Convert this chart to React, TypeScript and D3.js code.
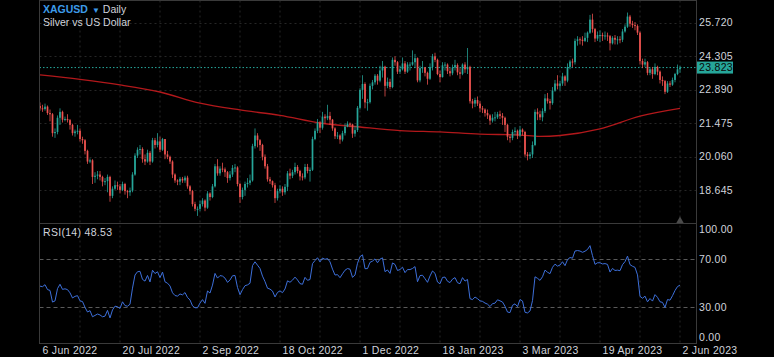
import React from "react";
import * as d3 from "d3";

// ---- data ----
const tickLabels = ["6 Jun 2022", "20 Jul 2022", "2 Sep 2022", "18 Oct 2022", "1 Dec 2022", "18 Jan 2023", "3 Mar 2023", "19 Apr 2023", "2 Jun 2023"];
const tickIndex = [0, 32, 64, 96, 128, 160, 192, 224, 256];
const priceTicks = [25.72, 24.305, 22.89, 21.475, 20.06, 18.645];
const rsiTicks = [100, 70, 30, 0];
const lastPrice = 23.823;
const rsiLast = 48.53;
const firstOpen = 22.2;

const priorCloses = [22.55, 22.9, 22.25, 22.3, 21.45, 21.25, 21.6, 20.9, 21.1, 21.6, 21.7, 21.55, 21.85, 21.7, 21.95, 22.1, 21.9, 22.1, 22.05, 21.9, 21.65, 21.95, 22.25, 22.2];

const close = [
  22.10, 22.07, 22.17, 21.90, 21.85, 21.05, 21.10, 21.70, 21.95, 21.62,
  21.65, 21.60, 21.40, 21.05, 21.12, 21.15, 20.80, 20.75, 20.30, 19.85,
  19.90, 19.20, 19.25, 19.30, 19.20, 19.00, 19.02, 19.20, 18.40, 18.70,
  18.85, 18.80, 18.65, 18.90, 18.60, 18.55, 18.62, 19.30, 20.10, 20.35,
  20.38, 19.95, 19.85, 20.22, 19.85, 20.75, 20.55, 20.70, 20.35, 20.80,
  20.15, 20.05, 19.85, 19.30, 19.05, 19.00, 19.12, 19.05, 19.17, 18.80,
  18.60, 18.05, 17.85, 17.85, 18.05, 18.20, 17.90, 18.50, 18.35, 18.80,
  19.65, 19.35, 19.55, 19.52, 19.40, 19.15, 19.30, 19.58, 19.60, 18.90,
  18.35, 18.65, 18.90, 18.95, 19.05, 20.50, 20.95, 20.75, 20.55, 20.05,
  19.65, 19.10, 19.02, 18.85, 18.30, 18.60, 18.70, 18.55, 18.78, 19.35,
  19.25, 19.40, 19.62, 19.45, 19.22, 19.18, 19.62, 19.45, 19.50, 20.80,
  21.15, 21.50, 21.28, 21.75, 21.68, 21.78, 21.62, 21.25, 20.92, 20.95,
  20.78, 21.05, 21.32, 21.45, 21.42, 21.03, 21.18, 22.12, 22.88, 23.13,
  22.35, 22.36, 23.05, 23.20, 23.48, 23.27, 23.70, 23.86, 23.05, 23.22,
  23.00, 24.15, 24.05, 23.65, 23.75, 24.00, 23.65, 23.95, 23.95, 24.05,
  24.22, 23.28, 23.80, 23.83, 23.60, 23.35, 23.85, 24.30, 24.15, 23.55,
  23.42, 23.92, 23.95, 23.67, 23.58, 23.82, 23.93, 23.62, 23.56, 23.95,
  23.75, 23.85, 22.40, 22.30, 22.45, 22.30, 22.10, 22.05, 21.90, 21.80,
  21.58, 21.70, 21.72, 21.85, 21.78, 21.70, 21.40, 20.90, 20.85, 21.10,
  21.15, 20.95, 21.20, 21.10, 20.15, 20.08, 20.15, 20.55, 21.95, 21.85,
  21.72, 21.98, 22.52, 22.40, 22.32, 22.85, 23.15, 23.05, 23.15, 23.45,
  23.27, 23.85, 24.08, 24.05, 24.95, 25.02, 25.00, 24.95, 25.08, 25.30,
  25.85, 25.45, 25.05, 25.20, 25.20, 25.15, 25.18, 25.15, 24.85, 25.08,
  25.00, 25.02, 25.00, 25.35, 25.55, 25.98, 25.68, 25.62, 25.58, 25.30,
  24.10, 23.95, 24.05, 23.60, 23.75, 23.55, 23.85, 23.65, 23.30, 23.25,
  22.80, 23.15, 23.10, 23.30, 23.55, 23.75, 23.823,
];

const high = [
  22.35, 22.25, 22.30, 22.22, 22.05, 21.90, 21.25, 21.80, 22.10, 22.00,
  21.75, 21.85, 21.65, 21.45, 21.20, 21.40, 21.25, 20.90, 20.80, 20.35,
  19.98, 19.95, 19.40, 19.45, 19.45, 19.25, 19.15, 19.30, 19.25, 18.80,
  19.05, 19.00, 18.90, 19.00, 18.95, 18.65, 18.75, 19.40, 20.20, 20.45,
  20.55, 20.45, 20.15, 20.35, 20.30, 20.85, 20.85, 21.05, 20.90, 20.85,
  20.80, 20.30, 20.10, 19.90, 19.35, 19.10, 19.20, 19.20, 19.25, 19.25,
  18.85, 18.65, 18.15, 17.95, 18.20, 18.30, 18.25, 18.60, 18.55, 18.90,
  19.75, 19.95, 19.65, 19.80, 19.60, 19.45, 19.45, 19.70, 19.75, 19.65,
  18.95, 18.75, 19.00, 19.15, 19.30, 20.60, 21.25, 21.05, 20.80, 20.60,
  20.15, 19.75, 19.20, 19.05, 18.95, 18.70, 18.85, 18.80, 18.90, 19.45,
  19.55, 19.50, 19.80, 19.70, 19.50, 19.35, 19.75, 19.75, 19.60, 20.90,
  21.25, 21.65, 21.55, 21.95, 21.85, 22.25, 21.95, 21.65, 21.30, 21.10,
  21.00, 21.15, 21.45, 21.55, 21.50, 21.45, 21.35, 22.20, 22.95, 23.50,
  23.20, 22.50, 23.15, 23.30, 23.55, 23.55, 23.90, 24.10, 23.90, 23.40,
  23.35, 24.25, 24.30, 24.10, 23.90, 24.25, 24.10, 24.05, 24.05, 24.55,
  24.40, 24.25, 23.90, 24.10, 23.85, 23.65, 24.00, 24.40, 24.45, 24.20,
  23.70, 24.05, 24.05, 24.00, 23.80, 23.95, 24.15, 24.00, 23.80, 24.00,
  24.05, 24.65, 23.90, 22.50, 22.55, 22.60, 22.40, 22.20, 22.10, 22.05,
  21.85, 21.85, 21.95, 21.95, 22.00, 21.90, 21.75, 21.45, 21.00, 21.20,
  21.30, 21.20, 21.35, 21.25, 21.15, 20.25, 20.25, 20.70, 22.05, 22.10,
  22.00, 22.10, 22.70, 22.75, 22.50, 23.00, 23.30, 23.50, 23.25, 23.60,
  23.50, 24.00, 24.15, 24.20, 25.05, 25.15, 25.10, 25.15, 25.30, 25.35,
  26.05, 26.10, 25.50, 25.35, 25.40, 25.30, 25.35, 25.30, 25.20, 25.15,
  25.20, 25.15, 25.15, 25.45, 25.65, 26.15, 26.05, 25.80, 25.75, 25.65,
  25.35, 24.20, 24.20, 24.10, 23.85, 23.85, 24.00, 23.90, 23.70, 23.45,
  23.30, 23.25, 23.25, 23.40, 23.60, 23.95, 23.90,
];

const low = [
  22.00, 21.95, 22.00, 21.82, 21.55, 20.90, 20.85, 21.00, 21.40, 21.50,
  21.55, 21.50, 21.20, 20.95, 20.90, 21.00, 20.70, 20.60, 20.15, 19.75,
  19.78, 18.90, 18.95, 19.10, 19.05, 18.80, 18.85, 18.55, 18.15, 18.30,
  18.65, 18.65, 18.50, 18.60, 18.45, 18.30, 18.40, 18.55, 19.25, 20.00,
  20.15, 19.80, 19.70, 19.80, 19.70, 19.80, 20.40, 20.45, 20.25, 20.30,
  19.95, 19.95, 19.75, 19.15, 18.95, 18.85, 18.85, 18.95, 18.95, 18.70,
  18.45, 17.95, 17.75, 17.55, 17.75, 17.95, 17.75, 17.85, 18.20, 18.30,
  18.75, 19.25, 19.25, 19.40, 19.20, 18.95, 19.05, 19.20, 19.40, 18.80,
  18.10, 18.25, 18.40, 18.75, 18.85, 19.00, 20.40, 20.45, 20.30, 19.90,
  19.55, 19.00, 18.90, 18.75, 18.10, 18.20, 18.50, 18.40, 18.45, 18.60,
  19.10, 19.15, 19.30, 19.35, 19.05, 19.05, 19.10, 19.35, 19.00, 19.45,
  20.75, 21.05, 21.05, 21.20, 21.45, 21.60, 21.40, 21.15, 20.80, 20.80,
  20.60, 20.70, 20.95, 21.30, 21.30, 20.85, 20.90, 21.10, 22.05, 22.50,
  22.10, 22.00, 22.30, 22.90, 23.10, 23.10, 23.20, 23.40, 22.60, 22.95,
  22.90, 22.95, 23.90, 23.55, 23.55, 23.70, 23.55, 23.60, 23.70, 23.90,
  23.80, 23.20, 23.20, 23.60, 23.45, 23.10, 23.30, 23.70, 24.05, 23.50,
  23.20, 23.40, 23.70, 23.55, 23.45, 23.50, 23.70, 23.50, 23.35, 23.50,
  23.60, 23.55, 22.30, 22.10, 22.15, 22.20, 21.95, 21.90, 21.75, 21.65,
  21.40, 21.50, 21.55, 21.65, 21.65, 21.40, 21.10, 20.75, 20.65, 20.75,
  20.95, 20.80, 20.90, 20.95, 20.05, 19.90, 19.95, 20.00, 20.50, 21.60,
  21.60, 21.55, 21.90, 22.30, 22.05, 22.25, 22.80, 22.90, 22.85, 23.05,
  23.05, 23.20, 23.75, 23.85, 23.95, 24.75, 24.80, 24.75, 24.90, 24.90,
  25.25, 25.30, 24.90, 24.95, 24.90, 24.95, 25.00, 24.95, 24.55, 24.80,
  24.80, 24.80, 24.85, 24.90, 25.30, 25.50, 25.55, 25.50, 25.40, 25.20,
  23.95, 23.80, 23.85, 23.50, 23.50, 23.35, 23.50, 23.50, 23.15, 23.05,
  22.70, 22.75, 23.00, 23.05, 23.20, 23.50, 23.60,
];

// 200-day moving average, read every 16 sessions
const maIndex = [0, 16, 32, 48, 64, 80, 96, 112, 128, 144, 160, 176, 192, 200, 208, 224, 240, 256];
const maValue = [23.51, 23.32, 23.09, 22.79, 22.32, 22.03, 21.80, 21.48, 21.31, 21.16, 21.10, 21.01, 20.97, 20.91, 20.95, 21.23, 21.77, 22.10];

// ---- layout ----
const W = 774;
const H = 357;
const left = 39.5;
const right = 696.5;
const mainTop = 0.5;
const mainBottom = 223.5;
const rsiBottom = 343.5;

const UP = "#26a69a";
const DOWN = "#ef5350";
const GRID = "#262626";
const TEXT = "#d1d4dc";
const FONT = "'Liberation Sans', Arial, sans-serif";

function computeRSI(values: number[], period: number) {
  const out: number[] = values.map(() => NaN);
  let gain = 0;
  let loss = 0;
  for (let i = 1; i <= period; i++) {
    const d = values[i] - values[i - 1];
    if (d > 0) gain += d; else loss -= d;
  }
  gain /= period;
  loss /= period;
  out[period] = 100 - 100 / (1 + gain / loss);
  for (let i = period + 1; i < values.length; i++) {
    const d = values[i] - values[i - 1];
    gain = (gain * (period - 1) + Math.max(d, 0)) / period;
    loss = (loss * (period - 1) + Math.max(-d, 0)) / period;
    out[i] = loss === 0 ? 100 : 100 - 100 / (1 + gain / loss);
  }
  return out;
}

export default function App() {
  const n = close.length;
  const x = d3.scaleLinear().domain([0, n - 1]).range([40, 680]);
  const y = d3.scaleLinear().domain([17.23, 26.68]).range([mainBottom, 0]);
  const yr = d3.scaleLinear().domain([0, 100]).range([343.3, 223.3]);

  const open = close.map((c, i) => (i === 0 ? firstOpen : close[i - 1]));
  const rsiAll = computeRSI(priorCloses.concat(close), 14);
  const rsi = rsiAll.slice(priorCloses.length);

  const gridIdx = d3.range(16, n, 16);

  const maLine = d3
    .line<number>()
    .x((_, i) => x(maIndex[i]))
    .y((v) => y(v))
    .curve(d3.curveMonotoneX)(maValue) as string;

  const rsiLine = d3
    .line<number>()
    .x((_, i) => x(i))
    .y((v) => yr(v))(rsi) as string;

  const bw = 1.7;

  return (
    <div style={{ position: "fixed", left: 0, top: 0, width: W, height: H, background: "#000" }}>
      <svg width={W} height={H} style={{ display: "block", background: "#000" }} fontFamily={FONT}>
        <defs>
          <clipPath id="mainClip">
            <rect x={left} y={mainTop} width={right - left} height={mainBottom - mainTop} />
          </clipPath>
          <clipPath id="rsiClip">
            <rect x={left} y={mainBottom} width={right - left} height={rsiBottom - mainBottom} />
          </clipPath>
        </defs>

        {/* vertical grid */}
        {gridIdx.map((i) => (
          <line key={"vg" + i} x1={x(i)} x2={x(i)} y1={mainTop} y2={rsiBottom} stroke={GRID} strokeDasharray="2,3" />
        ))}
        {/* horizontal price grid */}
        {priceTicks.map((t) => (
          <line key={"hg" + t} x1={left} x2={right} y1={Math.round(y(t)) + 0.5} y2={Math.round(y(t)) + 0.5} stroke={GRID} strokeDasharray="2,3" />
        ))}
        {/* RSI bands */}
        {[70, 30].map((t) => (
          <line key={"rb" + t} x1={left} x2={right} y1={Math.round(yr(t)) + 0.5} y2={Math.round(yr(t)) + 0.5} stroke="#5a5a5a" strokeDasharray="4,3" />
        ))}

        {/* moving average */}
        <g clipPath="url(#mainClip)">
          <path d={maLine} fill="none" stroke="#b2181b" strokeWidth={1.3} />
          {/* last price line */}
          <line x1={left} x2={right} y1={y(lastPrice)} y2={y(lastPrice)} stroke={UP} strokeDasharray="1.5,2" strokeWidth={1} />
          {/* candles */}
          {close.map((c, i) => {
            const o = open[i];
            const col = c >= o ? UP : DOWN;
            const top = y(Math.max(o, c));
            const bot = y(Math.min(o, c));
            return (
              <g key={"c" + i}>
                <line x1={x(i)} x2={x(i)} y1={y(high[i])} y2={y(low[i])} stroke={col} strokeWidth={0.9} opacity={0.85} />
                <rect x={x(i) - bw / 2} y={top} width={bw} height={Math.max(1, bot - top)} fill={col} />
              </g>
            );
          })}
          <path d={`M${x(n - 1) - 4},${mainBottom} L${x(n - 1)},${mainBottom - 7} L${x(n - 1) + 4},${mainBottom} Z`} fill="#4a4a4a" />
        </g>

        {/* RSI line */}
        <g clipPath="url(#rsiClip)">
          <path d={rsiLine} fill="none" stroke="#3d6fd9" strokeWidth={1} />
        </g>

        {/* pane borders */}
        <rect x={left} y={mainTop} width={right - left} height={rsiBottom - mainTop} fill="none" stroke="#3a3a3a" />
        <line x1={left} x2={right} y1={mainBottom} y2={mainBottom} stroke="#3a3a3a" />

        {/* price axis */}
        {priceTicks.map((t) => (
          <text key={"pt" + t} x={699} y={y(t)} dy="0.35em" fill={TEXT} fontSize={10.5} letterSpacing={0.3}>
            {t.toFixed(3)}
          </text>
        ))}
        <rect x={697} y={y(lastPrice) - 6} width={36} height={12} fill={UP} />
        <text x={699} y={y(lastPrice)} dy="0.35em" fill="#0a0a0a" fontSize={10.5} letterSpacing={0.3}>
          {lastPrice.toFixed(3)}
        </text>

        {/* RSI axis */}
        {rsiTicks.map((t) => {
          let yy = yr(t);
          if (t === 100) yy += 6;
          if (t === 0) yy -= 6;
          return (
            <text key={"rt" + t} x={699} y={yy} dy="0.35em" fill={TEXT} fontSize={10.5} letterSpacing={0.3}>
              {t.toFixed(2)}
            </text>
          );
        })}

        {/* time axis */}
        {tickIndex.map((ti, k) => (
          <text key={"tt" + ti} x={x(ti) + 2.5} y={354} fill={TEXT} fontSize={10.5} letterSpacing={0.3}>
            {tickLabels[k]}
          </text>
        ))}

        {/* header */}
        <text x={43} y={12.5} fontSize={10.5}>
          <tspan fill="#3d9be9" fontWeight="bold">XAGUSD</tspan>
          <tspan fill="#3d9be9" fontSize={8} dx={4}>▼</tspan>
          <tspan fill={TEXT} dx={3}>Daily</tspan>
        </text>
        <text x={43} y={25.5} fontSize={10.5} fill={TEXT}>
          Silver vs US Dollar
        </text>
        <text x={43} y={236} fontSize={10.5} fill={TEXT} letterSpacing={0.3}>
          {"RSI(14) " + rsiLast.toFixed(2)}
        </text>
      </svg>
    </div>
  );
}
